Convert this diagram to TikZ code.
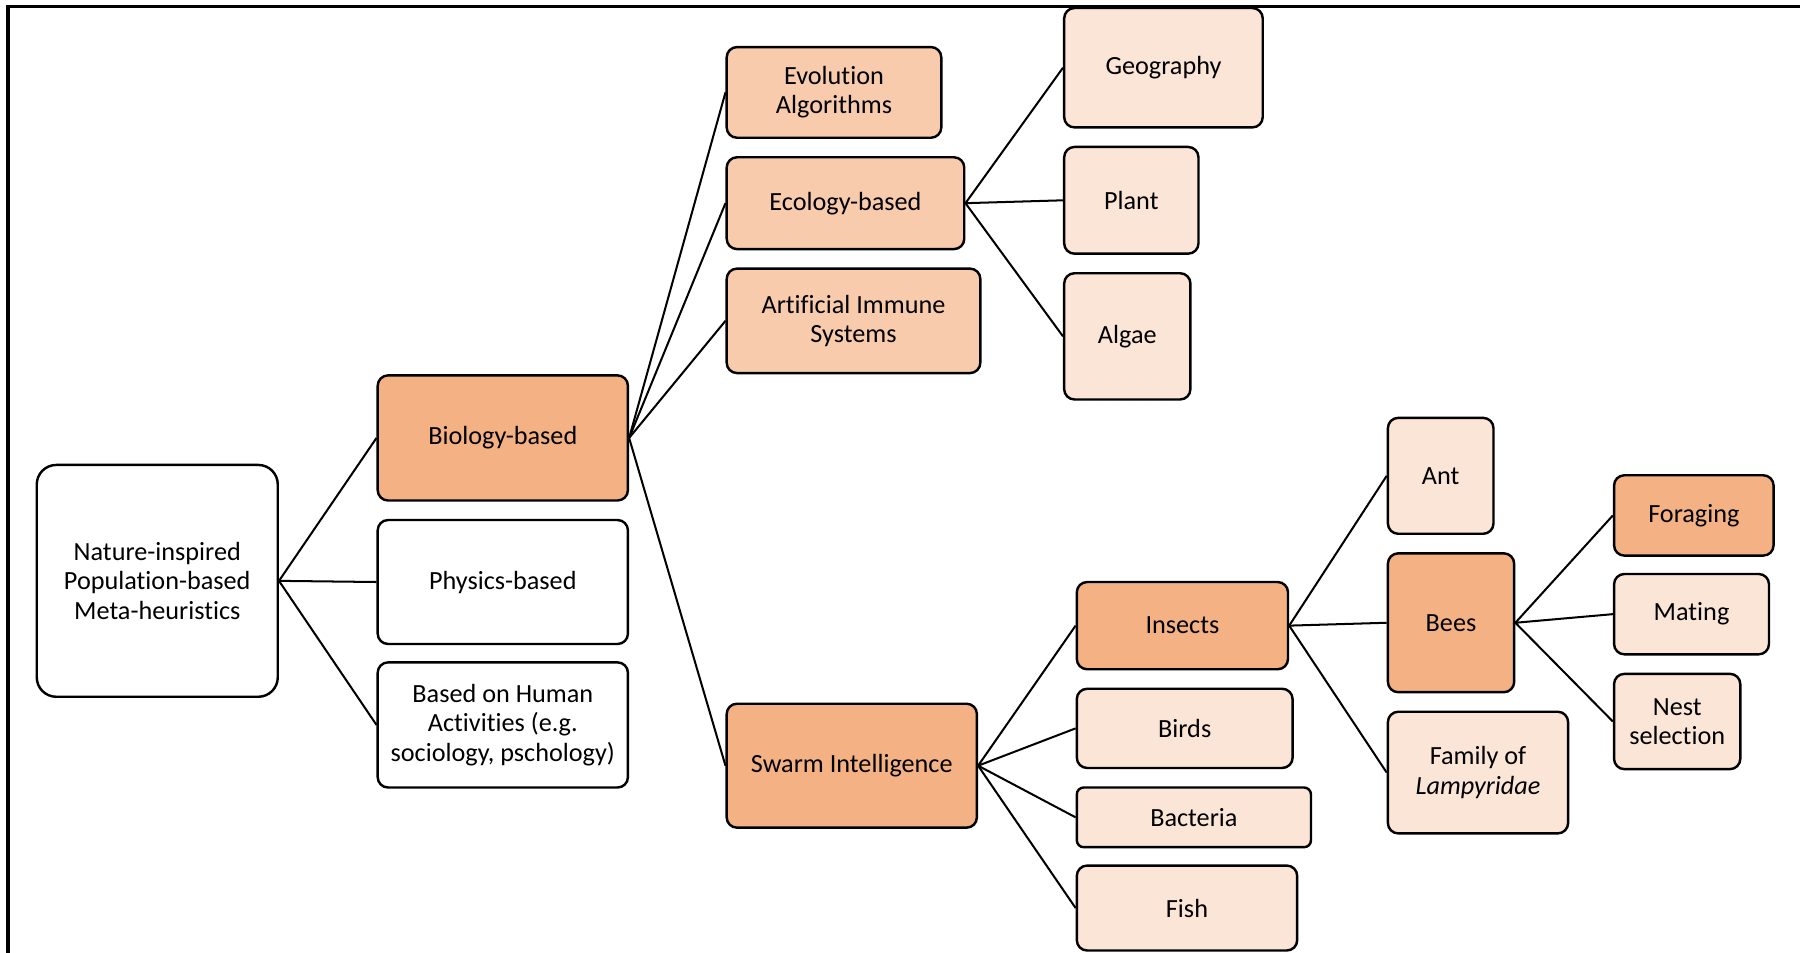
\documentclass[tikz,border=0pt]{standalone}
\usepackage{fontspec}
\setmainfont{Carlito}[Ligatures=NoCommon]
\definecolor{darkor}{HTML}{F4B183}
\definecolor{midor}{HTML}{F8CBAD}
\definecolor{lightor}{HTML}{FBE5D6}
\tikzset{
  box/.style={draw=black, line width=1.2pt, rounded corners=0.18cm, align=center,
    inner sep=0pt, font=\fontsize{13}{14.6}\selectfont, fill=white},
  dk/.style={box, fill=darkor},
  md/.style={box, fill=midor},
  lt/.style={box, fill=lightor},
  link/.style={line width=1pt, black},
}
\begin{document}
\begin{tikzpicture}[x=0.02cm, y=-0.02cm]
\useasboundingbox (0,0) rectangle (1568,830);
% frame
\draw[line width=1.6pt] (7,830) -- (7,6) -- (1568,6);
% level 0 and 1
\node[box, rounded corners=0.34cm, minimum width=4.2cm, minimum height=4.04cm] (root) at (137,506) {Nature-inspired\\Population-based\\Meta-heuristics};
\node[dk, minimum width=4.36cm, minimum height=2.18cm] (bio) at (438,381.5) {Biology-based};
\node[box, minimum width=4.36cm, minimum height=2.16cm] (phys) at (438,507) {Physics-based};
\node[box, minimum width=4.36cm, minimum height=2.18cm] (human) at (438,631.5) {Based on Human\\Activities (e.g.\\sociology, pschology)};
% biology children
\node[md, minimum width=3.74cm, minimum height=1.58cm] (evo) at (726.5,80.5) {Evolution\\Algorithms};
\node[md, minimum width=4.14cm, minimum height=1.6cm] (eco) at (736.5,177) {Ecology-based};
\node[md, minimum width=4.42cm, minimum height=1.82cm] (ais) at (743.5,279.5) {Artificial Immune\\Systems};
\node[dk, minimum width=4.36cm, minimum height=2.16cm] (swarm) at (742,667) {Swarm Intelligence};
% ecology children
\node[lt, minimum width=3.46cm, minimum height=2.08cm] (geo) at (1013.5,59) {Geography};
\node[lt, minimum width=2.34cm, minimum height=1.86cm] (plant) at (985.5,174.5) {Plant};
\node[lt, minimum width=2.2cm, minimum height=2.2cm] (algae) at (982,293) {Algae};
% swarm children
\node[dk, minimum width=3.68cm, minimum height=1.52cm] (insects) at (1030,545) {Insects};
\node[lt, minimum width=3.76cm, minimum height=1.38cm] (birds) at (1032,634.5) {Birds};
\node[lt, rounded corners=0.12cm, minimum width=4.08cm, minimum height=1.04cm] (bact) at (1040,712) {Bacteria};
\node[lt, minimum width=3.84cm, minimum height=1.48cm] (fish) at (1034,791) {Fish};
% insects children
\node[lt, minimum width=1.84cm, minimum height=2.02cm] (ant) at (1255,414.5) {Ant};
\node[dk, minimum width=2.2cm, minimum height=2.42cm] (bees) at (1264,542.5) {Bees};
\node[lt, minimum width=3.14cm, minimum height=2.12cm] (lamp) at (1287.5,673) {Family of\\\textit{Lampyridae}};
% bees children
\node[dk, minimum width=2.78cm, minimum height=1.4cm] (forag) at (1475.5,449) {Foraging};
\node[lt, minimum width=2.7cm, minimum height=1.4cm] (mating) at (1473.5,535) {Mating};
\node[lt, minimum width=2.2cm, minimum height=1.66cm] (nest) at (1461,628.5) {Nest\\selection};
% connectors
\foreach \c in {bio,phys,human} \draw[link] (root.east) -- (\c.west);
\foreach \c in {evo,eco,ais,swarm} \draw[link] (bio.east) -- (\c.west);
\foreach \c in {geo,plant,algae} \draw[link] (eco.east) -- (\c.west);
\foreach \c in {insects,birds,bact,fish} \draw[link] (swarm.east) -- (\c.west);
\foreach \c in {ant,bees,lamp} \draw[link] (insects.east) -- (\c.west);
\foreach \c in {forag,mating,nest} \draw[link] (bees.east) -- (\c.west);
\end{tikzpicture}
\end{document}
